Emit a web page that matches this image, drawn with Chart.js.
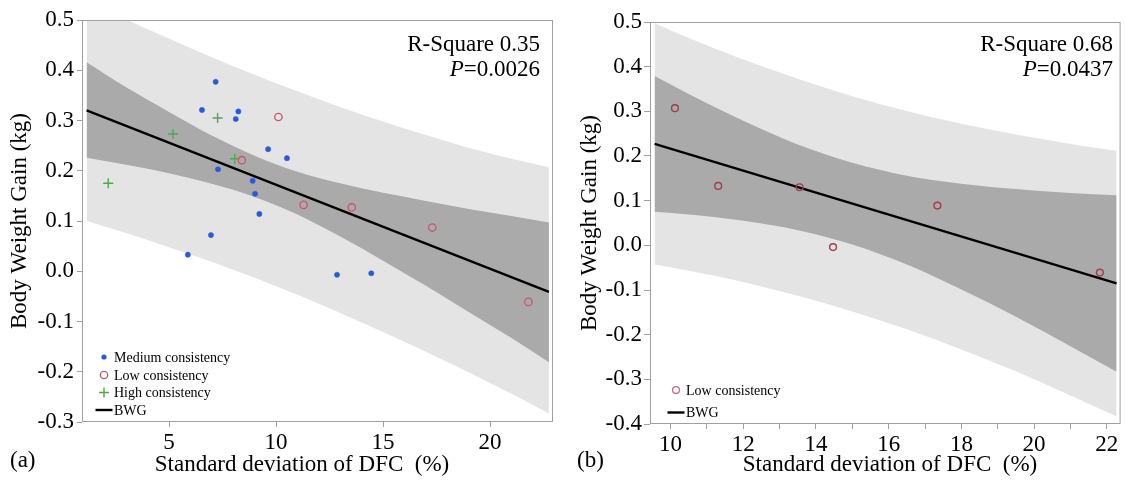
<!DOCTYPE html>
<html>
<head>
<meta charset="utf-8">
<title>Body weight gain vs SD of DFC</title>
<script src="https://cdn.jsdelivr.net/npm/chart.js@4.4.0/dist/chart.umd.min.js"></script>
<style>
  html, body { margin: 0; padding: 0; background: #fff; }
  #wrap { position: relative; width: 1126px; height: 480px; }
  canvas { position: absolute; top: 0; }
  #chartA { left: 0; }
  #chartB { left: 563px; }
</style>
</head>
<body>
<div id="wrap">
  <canvas id="chartA" width="563" height="480"></canvas>
  <canvas id="chartB" width="563" height="480"></canvas>
</div>
<script>
// ---- panel (a): all pens ----
const medX = [7.18, 6.54, 8.24, 8.12, 9.63, 10.51, 7.29, 8.91, 9.02, 9.22, 6.96, 5.88, 12.85, 14.45];
const medY = [0.377, 0.321, 0.318, 0.303, 0.243, 0.225, 0.203, 0.180, 0.154, 0.114, 0.072, 0.033, -0.007, -0.004];
const lowAX = [10.11, 8.40, 11.29, 13.54, 17.30, 21.79];
const lowAY = [0.307, 0.221, 0.132, 0.127, 0.087, -0.061];
const highX = [7.27, 5.19, 8.07, 2.16];
const highY = [0.305, 0.273, 0.224, 0.175];

// regression line and bands
const lineAX = [1.15, 22.75];
const lineAY = [0.320, -0.041];
const bandAX = [1.15, 3, 5, 7, 9, 11, 13, 15, 17, 19, 21, 22.75];
const ciAHi = [0.416, 0.366, 0.317, 0.270, 0.230, 0.198, 0.175, 0.156, 0.140, 0.124, 0.110, 0.097];
const ciALo = [0.226, 0.212, 0.195, 0.174, 0.148, 0.113, 0.069, 0.021, -0.029, -0.081, -0.133, -0.181];
const piAHi = [0.539, 0.501, 0.463, 0.426, 0.391, 0.358, 0.327, 0.298, 0.271, 0.246, 0.224, 0.207];
const piALo = [0.100, 0.076, 0.048, 0.019, -0.013, -0.047, -0.083, -0.121, -0.160, -0.201, -0.244, -0.283];

// ---- panel (b): low consistency pens only ----
const lowBX = [10.12, 11.31, 13.55, 14.47, 17.34, 21.81];
const lowBY = [0.307, 0.133, 0.130, -0.004, 0.089, -0.061];
const lineBX = [9.56, 22.27];
const lineBY = [0.227, -0.085];
const bandBX = [9.56, 10.5, 12, 13.5, 15, 16.5, 18, 19.5, 21, 22.27];
const ciBHi = [0.379, 0.339, 0.279, 0.226, 0.185, 0.156, 0.138, 0.126, 0.117, 0.112];
const ciBLo = [0.075, 0.069, 0.055, 0.034, 0.002, -0.043, -0.099, -0.160, -0.226, -0.283];
const piBHi = [0.497, 0.464, 0.416, 0.373, 0.334, 0.301, 0.272, 0.248, 0.227, 0.212];
const piBLo = [-0.043, -0.057, -0.082, -0.113, -0.148, -0.188, -0.233, -0.282, -0.336, -0.383];

const FONT = "'Liberation Serif', 'Times New Roman', serif";
const BLUE = '#2b5ad6';
const RED_A = '#c9566a';
const RED_B = '#a03e4b';
const GREEN = '#4fa84f';
const LIGHT = '#e4e4e4';
const DARK = '#aaaaaa';
const FRAME = '#a0a0a0';

const toPts = (xs, ys) => xs.map((x, i) => ({ x: x, y: ys[i] }));

const bandLine = (xs, ys, fill, color, order) => ({
    type: 'line',
    data: toPts(xs, ys),
    fill: fill,
    backgroundColor: color,
    borderColor: 'rgba(0,0,0,0)',
    borderWidth: 0,
    pointRadius: 0,
    cubicInterpolationMode: 'monotone',
    order: order
});

const bands = (xs, piHi, piLo, ciHi, ciLo) => [
    bandLine(xs, piHi, '+1', LIGHT, 9),
    bandLine(xs, piLo, false, LIGHT, 8),
    bandLine(xs, ciHi, '+1', DARK, 7),
    bandLine(xs, ciLo, false, DARK, 6)
];

const regLine = (xs, ys) => ({
    type: 'line',
    data: toPts(xs, ys),
    borderColor: '#000',
    borderWidth: 2.4,
    pointRadius: 0,
    fill: false,
    order: 3
});

// legend marker, same look as the points
const drawMarker = (ctx, m, x, y) => {
    ctx.save();
    ctx.beginPath();
    if (m.kind === 'dot') {
        ctx.fillStyle = m.color;
        ctx.arc(x, y, m.r, 0, Math.PI * 2);
        ctx.fill();
    } else if (m.kind === 'ring') {
        ctx.strokeStyle = m.color;
        ctx.lineWidth = 1.3;
        ctx.arc(x, y, m.r, 0, Math.PI * 2);
        ctx.stroke();
    } else if (m.kind === 'plus') {
        ctx.strokeStyle = m.color;
        ctx.lineWidth = 1.4;
        ctx.moveTo(x - m.r, y); ctx.lineTo(x + m.r, y);
        ctx.moveTo(x, y - m.r); ctx.lineTo(x, y + m.r);
        ctx.stroke();
    } else {
        ctx.strokeStyle = '#000';
        ctx.lineWidth = 2.4;
        ctx.moveTo(x - 8.5, y); ctx.lineTo(x + 8.5, y);
        ctx.stroke();
    }
    ctx.restore();
};

// frame, stats text, legend, x title and panel tag
const panelText = (cfg) => ({
    id: 'panelText',
    afterDatasetsDraw(chart) {
        const ctx = chart.ctx;
        const a = chart.chartArea;
        ctx.save();
        ctx.strokeStyle = FRAME;
        ctx.lineWidth = 1;
        ctx.strokeRect(a.left + 0.5, a.top + 0.5, a.right - a.left - 1, a.bottom - a.top - 1);

        ctx.fillStyle = '#000';
        ctx.textBaseline = 'middle';
        ctx.font = '23px ' + FONT;
        ctx.textAlign = 'right';
        ctx.fillText(cfg.rsq, cfg.statX, 45);
        ctx.fillText(cfg.p, cfg.statX, 70);
        const w = ctx.measureText(cfg.p).width;
        ctx.font = 'italic 23px ' + FONT;
        ctx.fillText('P', cfg.statX - w, 70);

        ctx.font = '23px ' + FONT;
        ctx.textAlign = 'center';
        ctx.fillText('Standard deviation of DFC  (%)', cfg.titleX, 465);
        ctx.textAlign = 'left';
        ctx.fillText(cfg.tag, cfg.tagX, 461);

        ctx.font = '14px ' + FONT;
        cfg.legend.forEach(item => {
            drawMarker(ctx, item, cfg.legX, item.y);
            ctx.fillStyle = '#000';
            ctx.fillText(item.label, cfg.legX + 10, item.y + 1);
        });
        ctx.restore();
    }
});

const yAxis = (min, max, width, titlePad, tickLen, labelPad) => ({
    type: 'linear',
    min: min,
    max: max,
    afterFit: s => { s.width = width; },
    border: { display: false },
    grid: { drawOnChartArea: false, drawTicks: true, tickLength: tickLen, color: FRAME },
    ticks: {
        stepSize: 0.1,
        padding: labelPad,
        color: '#000',
        font: { family: FONT, size: 23 },
        callback: v => Math.abs(v) < 1e-9 ? '0.0' : v.toFixed(1)
    },
    title: {
        display: true,
        text: 'Body Weight Gain (kg)',
        color: '#000',
        font: { family: FONT, size: 23 },
        padding: { top: titlePad, bottom: 0 }
    }
});

const xAxis = (min, max, height, step, cb) => ({
    type: 'linear',
    min: min,
    max: max,
    afterFit: s => { s.height = height; },
    border: { display: false },
    grid: { drawOnChartArea: false, drawTicks: true, tickLength: 5, color: FRAME },
    ticks: {
        stepSize: step,
        includeBounds: false,
        autoSkip: false,
        maxRotation: 0,
        padding: 2,
        color: '#000',
        font: { family: FONT, size: 23 },
        callback: cb
    }
});

const baseOptions = (padding, scales) => ({
    responsive: false,
    animation: false,
    devicePixelRatio: 1,
    layout: { padding: padding },
    plugins: { legend: { display: false }, tooltip: { enabled: false } },
    scales: scales
});

new Chart(document.getElementById('chartA'), {
    type: 'scatter',
    data: {
        datasets: [
            ...bands(bandAX, piAHi, piALo, ciAHi, ciALo),
            regLine(lineAX, lineAY),
            { data: toPts(medX, medY), pointStyle: 'circle', pointRadius: 2.6, backgroundColor: BLUE, borderColor: BLUE, borderWidth: 0.5, order: 1 },
            { data: toPts(lowAX, lowAY), pointStyle: 'circle', pointRadius: 3.7, backgroundColor: 'rgba(0,0,0,0)', borderColor: RED_A, borderWidth: 1.3, order: 1 },
            { data: toPts(highX, highY), pointStyle: 'cross', pointRadius: 5, borderColor: GREEN, borderWidth: 1.4, order: 1 }
        ]
    },
    options: baseOptions({ left: 0, top: 20, right: 10, bottom: 0 }, {
        x: xAxis(0.935, 22.94, 58, 5, v => String(v)),
        y: yAxis(-0.3, 0.5, 82, 6, 5, 3)
    }),
    plugins: [panelText({
        rsq: 'R-Square 0.35', p: '=0.0026', statX: 540,
        titleX: 302, tag: '(a)', tagX: 10,
        legX: 104,
        legend: [
            { kind: 'dot', color: BLUE, r: 2.6, label: 'Medium consistency', y: 357 },
            { kind: 'ring', color: RED_A, r: 3.7, label: 'Low consistency', y: 375 },
            { kind: 'plus', color: GREEN, r: 5, label: 'High consistency', y: 392.5 },
            { kind: 'line', label: 'BWG', y: 410 }
        ]
    })]
});

new Chart(document.getElementById('chartB'), {
    type: 'scatter',
    data: {
        datasets: [
            ...bands(bandBX, piBHi, piBLo, ciBHi, ciBLo),
            regLine(lineBX, lineBY),
            { data: toPts(lowBX, lowBY), pointStyle: 'circle', pointRadius: 3.4, backgroundColor: 'rgba(0,0,0,0)', borderColor: RED_B, borderWidth: 1.4, order: 1 }
        ]
    },
    options: baseOptions({ left: 0, top: 22, right: 2, bottom: 0 }, {
        x: xAxis(9.434, 22.38, 56, 1, v => (v % 2 === 0 ? String(v) : '')),
        y: yAxis(-0.4, 0.5, 87, 13, 6, 2)
    }),
    plugins: [panelText({
        rsq: 'R-Square 0.68', p: '=0.0437', statX: 550,
        titleX: 327, tag: '(b)', tagX: 14,
        legX: 113,
        legend: [
            { kind: 'ring', color: '#d0687a', r: 3.4, label: 'Low consistency', y: 390 },
            { kind: 'line', label: 'BWG', y: 412.5 }
        ]
    })]
});
</script>
</body>
</html>
